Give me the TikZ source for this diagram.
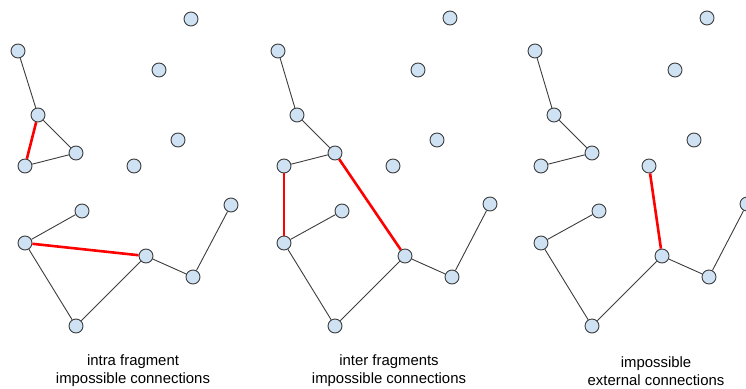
\documentclass[tikz,border=0pt]{standalone}
\usepackage{fontspec}
\setmainfont{Liberation Sans}
\usepackage{xcolor}
\usepackage{tikz}
\usetikzlibrary{positioning}
\definecolor{NodeBlue}{HTML}{CFE2F3}
\definecolor{NodeLine}{HTML}{3C3C3C}
\tikzset{
    vertex/.style={circle, minimum size=14pt, inner sep=0pt, draw=NodeLine, line width=0.9pt, fill=NodeBlue},
    link/.style={NodeLine, line width=0.9pt},
    badlink/.style={red, line width=2.6pt},
    caption/.style={align=center, font=\fontsize{14.9}{18}\selectfont},
}

\begin{document}
\begin{tikzpicture}[x=1pt, y=-1pt]
    \useasboundingbox (0,0) rectangle (746,388);

    % intra fragment
    \node[vertex] (a1) at (191,19) {};
    \node[vertex] (b1) at (18,51) {};
    \node[vertex] (c1) at (159,70) {};
    \node[vertex] (d1) at (38,115) {};
    \node[vertex] (e1) at (178,140) {};
    \node[vertex] (f1) at (76,153) {};
    \node[vertex] (g1) at (25,166) {};
    \node[vertex] (h1) at (134,166) {};
    \node[vertex] (i1) at (82,211) {};
    \node[vertex] (j1) at (25,243) {};
    \node[vertex] (k1) at (146,256) {};
    \node[vertex] (l1) at (193,277) {};
    \node[vertex] (m1) at (231,205) {};
    \node[vertex] (n1) at (76,326) {};

    \draw[link] (b1) -- (d1);
    \draw[link] (d1) -- (f1);
    \draw[link] (f1) -- (g1);
    \draw[link] (i1) -- (j1);
    \draw[link] (j1) -- (n1);
    \draw[link] (n1) -- (k1);
    \draw[link] (k1) -- (l1);
    \draw[link] (l1) -- (m1);
    \draw[badlink] (d1) -- (g1);
    \draw[badlink] (j1) -- (k1);

    \node[caption] (cap1) at (133,371) {intra fragment\\impossible connections};

    % inter fragments
    \node[vertex] (a2) at (450,18) {};
    \node[vertex] (b2) at (278,51) {};
    \node[vertex] (c2) at (418,70) {};
    \node[vertex] (d2) at (297,115) {};
    \node[vertex] (e2) at (437,140) {};
    \node[vertex] (f2) at (335,153) {};
    \node[vertex] (g2) at (284,166) {};
    \node[vertex] (h2) at (393,166) {};
    \node[vertex] (i2) at (342,211) {};
    \node[vertex] (j2) at (284,243) {};
    \node[vertex] (k2) at (405,256) {};
    \node[vertex] (l2) at (452,277) {};
    \node[vertex] (m2) at (490,204) {};
    \node[vertex] (n2) at (335,326) {};

    \draw[link] (b2) -- (d2);
    \draw[link] (d2) -- (f2);
    \draw[link] (f2) -- (g2);
    \draw[link] (i2) -- (j2);
    \draw[link] (j2) -- (n2);
    \draw[link] (n2) -- (k2);
    \draw[link] (k2) -- (l2);
    \draw[link] (l2) -- (m2);
    \draw[badlink] (g2) -- (j2);
    \draw[badlink] (f2) -- (k2);

    \node[caption] (cap2) at (389,371) {inter fragments\\impossible connections};

    % external
    \node[vertex] (a3) at (707,18) {};
    \node[vertex] (b3) at (535,51) {};
    \node[vertex] (c3) at (675,70) {};
    \node[vertex] (d3) at (554,115) {};
    \node[vertex] (e3) at (694,140) {};
    \node[vertex] (f3) at (592,153) {};
    \node[vertex] (g3) at (541,166) {};
    \node[vertex] (h3) at (649,166) {};
    \node[vertex] (i3) at (599,211) {};
    \node[vertex] (j3) at (541,243) {};
    \node[vertex] (k3) at (662,256) {};
    \node[vertex] (l3) at (709,277) {};
    \node[vertex] (m3) at (747,204) {};
    \node[vertex] (n3) at (592,326) {};

    \draw[link] (b3) -- (d3);
    \draw[link] (d3) -- (f3);
    \draw[link] (f3) -- (g3);
    \draw[link] (i3) -- (j3);
    \draw[link] (j3) -- (n3);
    \draw[link] (n3) -- (k3);
    \draw[link] (k3) -- (l3);
    \draw[link] (l3) -- (m3);
    \draw[badlink] (h3) -- (k3);

    \node[caption] (cap3) at (656,371) {impossible\\external connections};
\end{tikzpicture}
\end{document}
